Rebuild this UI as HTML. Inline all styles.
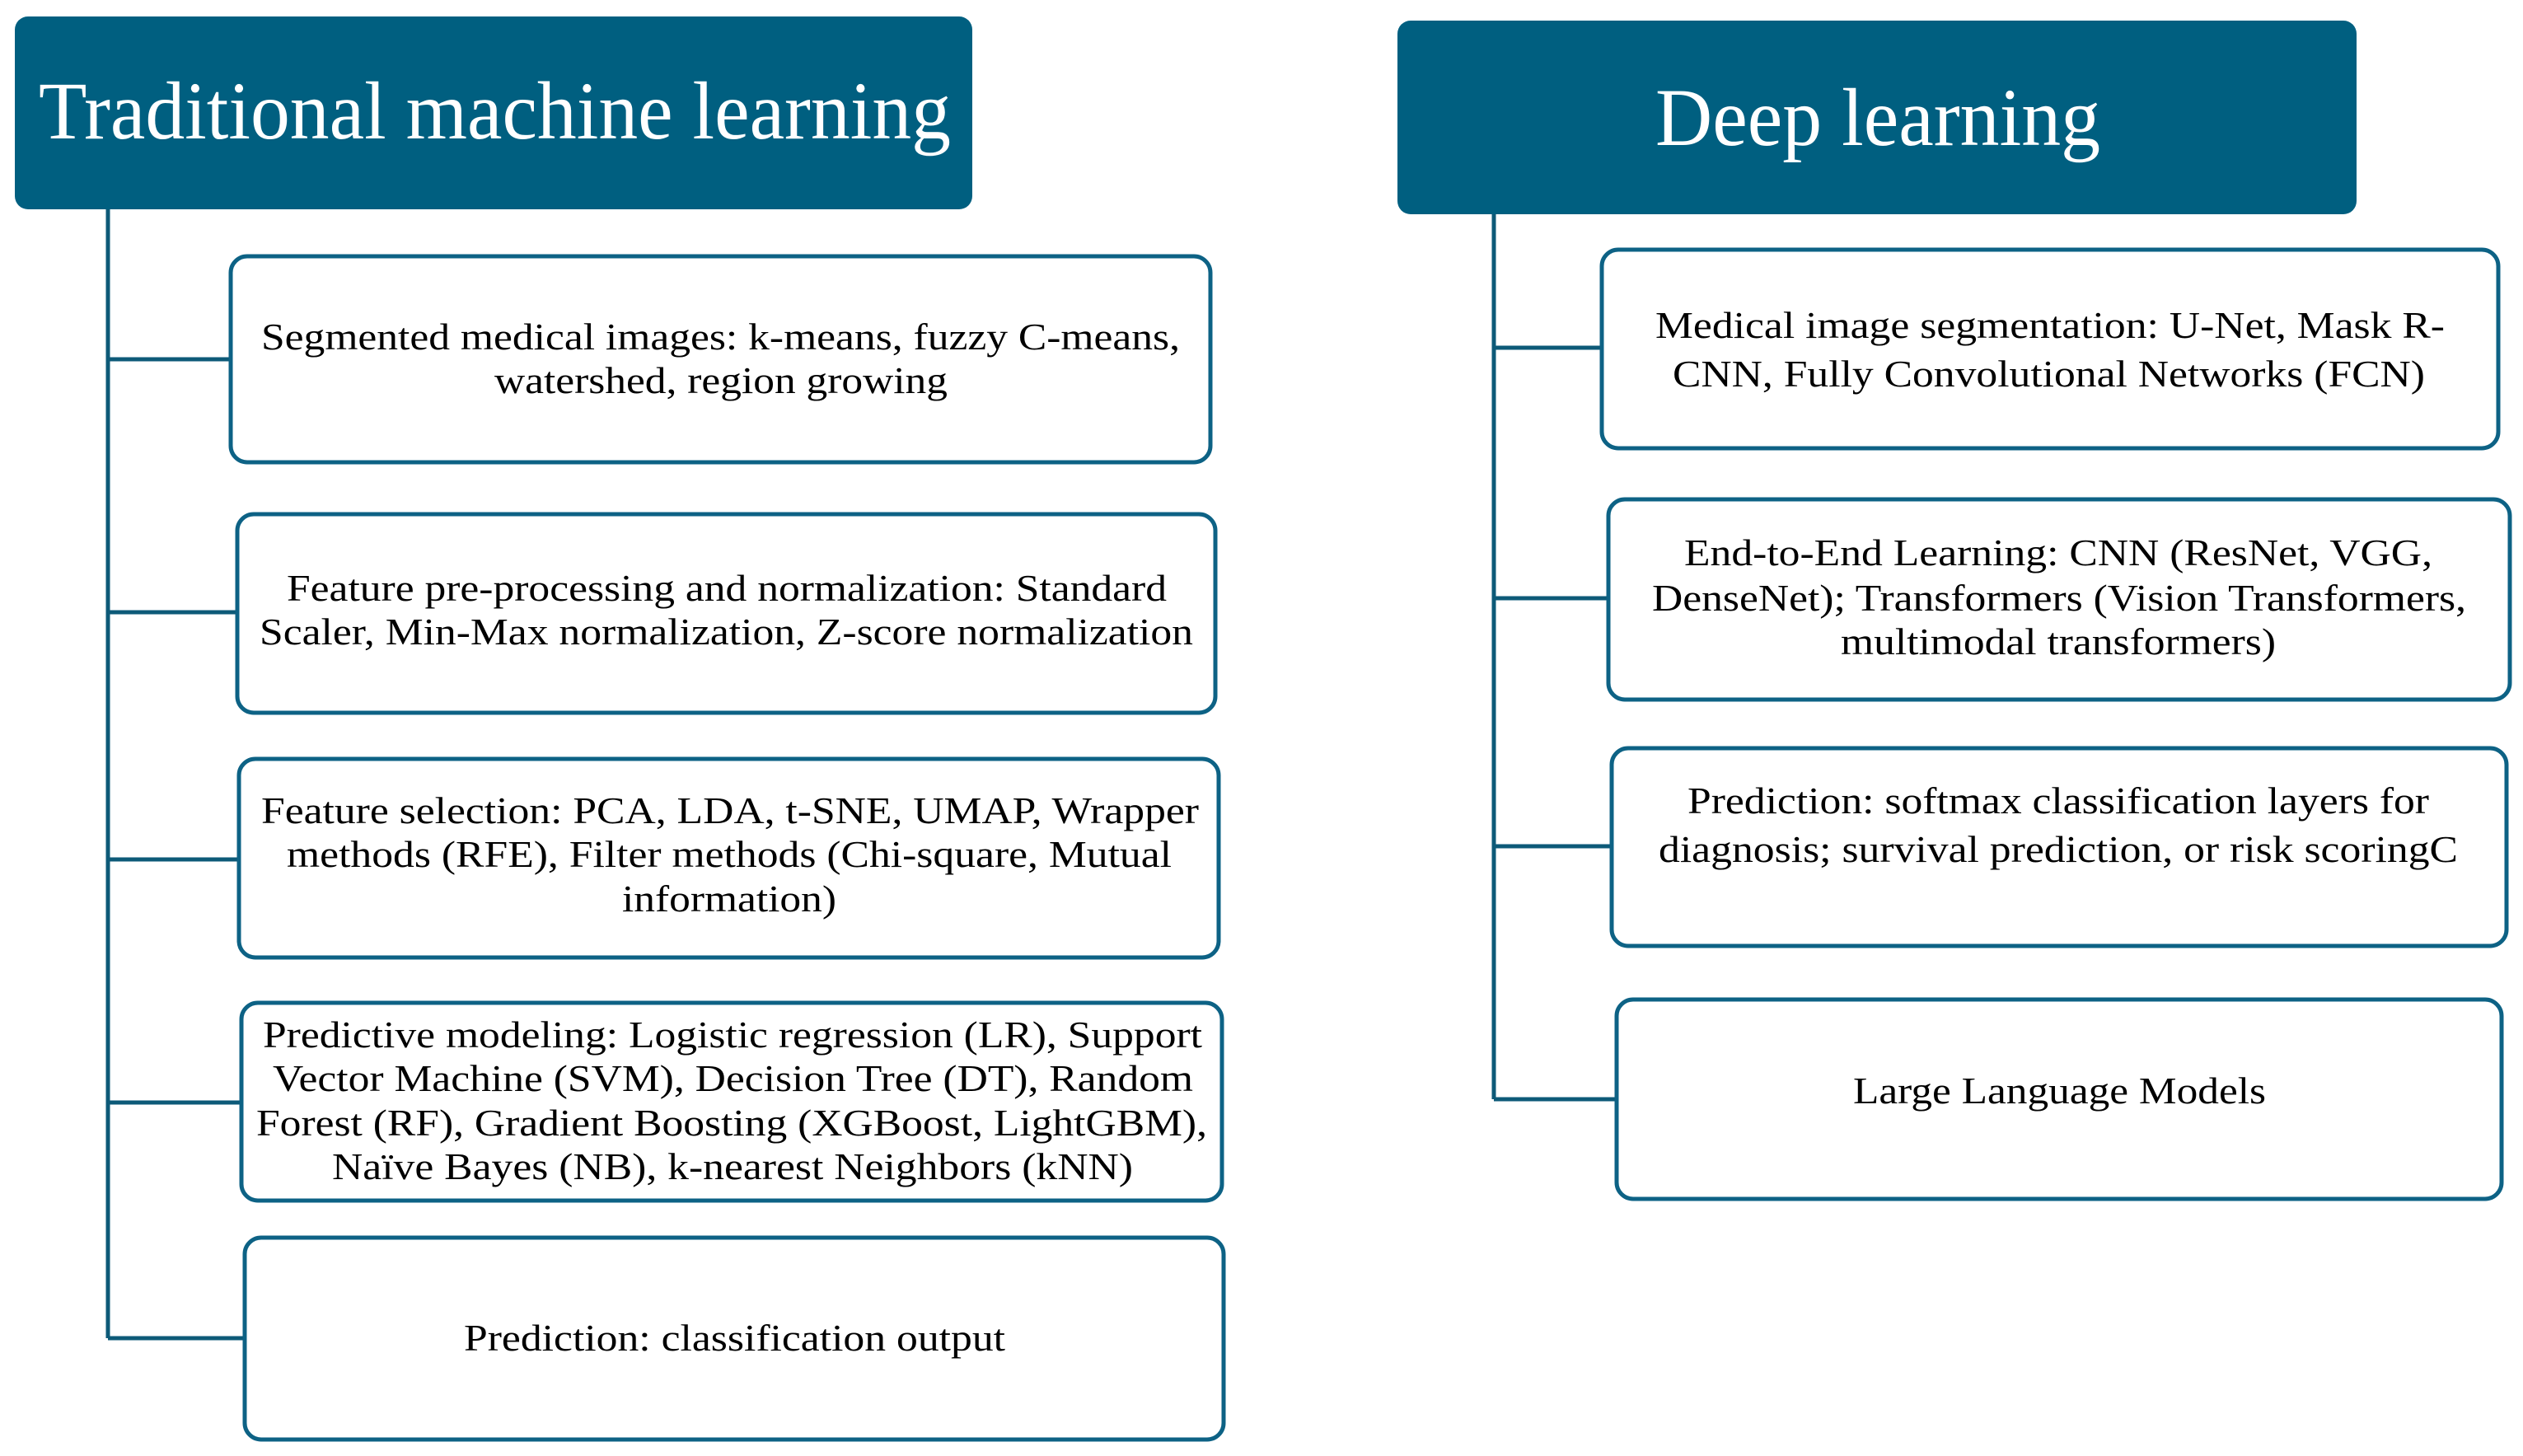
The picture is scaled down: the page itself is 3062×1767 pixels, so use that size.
<!DOCTYPE html>
<html><head><meta charset="utf-8"><style>
html,body{margin:0;padding:0;background:#fff;}
svg{display:block;}
text{font-family:"Liberation Serif",serif;fill:#000;}
.h{fill:#fff;font-size:100px;}
.b{font-size:46px;}
</style></head><body>
<svg width="3062" height="1767" viewBox="0 0 3062 1767" xmlns="http://www.w3.org/2000/svg">
<g fill="#005f80">
<rect x="18" y="20" width="1162" height="234" rx="16"/>
<rect x="1696" y="25" width="1164" height="235" rx="16"/>
</g>
<text class="h" x="47" y="168" textLength="1107" lengthAdjust="spacingAndGlyphs">Traditional machine learning</text>
<text class="h" x="2009" y="176" textLength="540" lengthAdjust="spacingAndGlyphs">Deep learning</text>
<g stroke="#0d5a78" stroke-width="5" fill="none">
<path d="M131 254V1624"/>
<path d="M131 436H280M131 743H288M131 1043H290M131 1338H293M131 1624H297"/>
<path d="M1813 260V1334"/>
<path d="M1813 422H1944M1813 726H1952M1813 1027H1956M1813 1334H1962"/>
</g>
<g stroke="#0d6285" stroke-width="5" fill="#fff">
<rect x="280" y="311" width="1189" height="250" rx="20"/>
<rect x="288" y="624" width="1187" height="241" rx="20"/>
<rect x="290" y="921" width="1189" height="241" rx="20"/>
<rect x="293" y="1217" width="1190" height="240" rx="20"/>
<rect x="297" y="1502" width="1188" height="245" rx="20"/>
<rect x="1944" y="303" width="1088" height="241" rx="20"/>
<rect x="1952" y="606" width="1094" height="243" rx="20"/>
<rect x="1956" y="908" width="1086" height="240" rx="20"/>
<rect x="1962" y="1213" width="1074" height="242" rx="20"/>
</g>
<g class="b" font-size="46">
<text class="b" x="317" y="424" textLength="1115" lengthAdjust="spacingAndGlyphs">Segmented medical images: k-means, fuzzy C-means,</text>
<text class="b" x="600" y="477" textLength="550" lengthAdjust="spacingAndGlyphs">watershed, region growing</text>
<text class="b" x="348" y="729" textLength="1068" lengthAdjust="spacingAndGlyphs">Feature pre-processing and normalization: Standard</text>
<text class="b" x="315" y="782" textLength="1133" lengthAdjust="spacingAndGlyphs">Scaler, Min-Max normalization, Z-score normalization</text>
<text class="b" x="317" y="999" textLength="1138" lengthAdjust="spacingAndGlyphs">Feature selection: PCA, LDA, t-SNE, UMAP, Wrapper</text>
<text class="b" x="348" y="1052" textLength="1074" lengthAdjust="spacingAndGlyphs">methods (RFE), Filter methods (Chi-square, Mutual</text>
<text class="b" x="755" y="1106" textLength="260" lengthAdjust="spacingAndGlyphs">information)</text>
<text class="b" x="319" y="1271" textLength="1140" lengthAdjust="spacingAndGlyphs">Predictive modeling: Logistic regression (LR), Support</text>
<text class="b" x="331" y="1324" textLength="1117" lengthAdjust="spacingAndGlyphs">Vector Machine (SVM), Decision Tree (DT), Random</text>
<text class="b" x="311" y="1378" textLength="1154" lengthAdjust="spacingAndGlyphs">Forest (RF), Gradient Boosting (XGBoost, LightGBM),</text>
<text class="b" x="403" y="1431" textLength="972" lengthAdjust="spacingAndGlyphs">Naïve Bayes (NB), k-nearest Neighbors (kNN)</text>
<text class="b" x="563" y="1639" textLength="657" lengthAdjust="spacingAndGlyphs">Prediction: classification output</text>
<text class="b" x="2009" y="410" textLength="958" lengthAdjust="spacingAndGlyphs">Medical image segmentation: U-Net, Mask R-</text>
<text class="b" x="2030" y="469" textLength="913" lengthAdjust="spacingAndGlyphs">CNN, Fully Convolutional Networks (FCN)</text>
<text class="b" x="2044" y="686" textLength="908" lengthAdjust="spacingAndGlyphs">End-to-End Learning: CNN (ResNet, VGG,</text>
<text class="b" x="2005" y="741" textLength="988" lengthAdjust="spacingAndGlyphs">DenseNet); Transformers (Vision Transformers,</text>
<text class="b" x="2234" y="794" textLength="528" lengthAdjust="spacingAndGlyphs">multimodal transformers)</text>
<text class="b" x="2048" y="987" textLength="900" lengthAdjust="spacingAndGlyphs">Prediction: softmax classification layers for</text>
<text class="b" x="2013" y="1046" textLength="970" lengthAdjust="spacingAndGlyphs">diagnosis; survival prediction, or risk scoringC</text>
<text class="b" x="2249" y="1339" textLength="501" lengthAdjust="spacingAndGlyphs">Large Language Models</text>
</g>
</svg>
</body></html>
